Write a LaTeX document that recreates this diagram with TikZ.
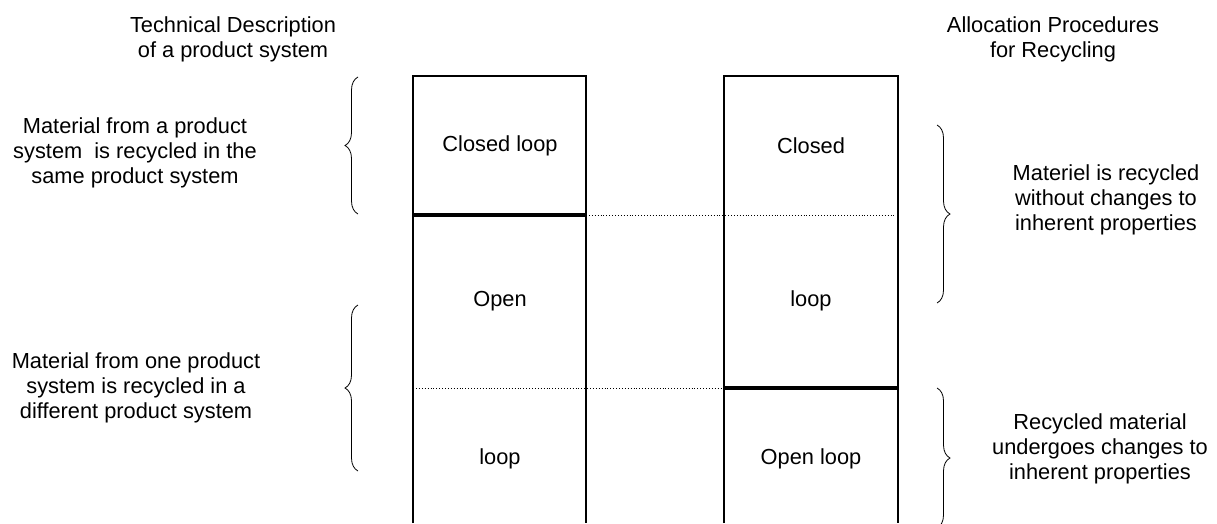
\documentclass[tikz,border=0pt]{standalone}
\usepackage{fontspec}
\setmainfont{Liberation Sans}
\usetikzlibrary{decorations.pathreplacing}
\begin{document}
\begin{tikzpicture}[x=1pt,y=-1pt,
  txt/.style={align=center,font=\fontsize{21.8}{25}\selectfont,inner sep=0pt},
  col/.style={line width=1.3pt},
  thickline/.style={line width=4.8pt},
  dotline/.style={line width=0.9pt,dotted},
  brc/.style={line width=0.8pt,decorate,decoration={brace,amplitude=13pt,aspect=0.5}}]
\useasboundingbox (0,0) rectangle (1217,523);
% columns
\coordinate (LTL) at (413,76);
\coordinate (LTR) at (586,76);
\coordinate (LBL) at (413,523);
\coordinate (LBR) at (586,523);
\coordinate (RTL) at (724,76);
\coordinate (RTR) at (898,76);
\coordinate (RBL) at (724,523);
\coordinate (RBR) at (898,523);
\draw[col] (LBL) -- (LTL) -- (LTR) -- (LBR);
\draw[col] (RBL) -- (RTL) -- (RTR) -- (RBR);
% separators
\coordinate (LS1) at (413,215);
\coordinate (LS2) at (586,215);
\coordinate (RS1) at (895,215);
\coordinate (LD1) at (416,388);
\coordinate (RD1) at (724,388);
\coordinate (RD2) at (898,388);
\draw[thickline] (LS1) -- (LS2);
\draw[dotline] (LS2) -- (RS1);
\draw[dotline] (LD1) -- (RD1);
\draw[thickline] (RD1) -- (RD2);
% column labels
\node[txt] (l1) at (500,146) {Closed loop};
\node[txt] (l2) at (500,301) {Open};
\node[txt] (l3) at (500,459) {loop};
\node[txt] (r1) at (811,146) {Closed};
\node[txt] (r2) at (811,301) {loop};
\node[txt] (r3) at (811,459) {Open loop};
% headers
\node[txt] (h1) at (233,39) {Technical Description\\of a product system};
\node[txt] (h2) at (1053,39) {Allocation Procedures\\for Recycling};
% braces
\coordinate (b1a) at (358,214);
\coordinate (b1b) at (358,77);
\coordinate (b2a) at (358,471);
\coordinate (b2b) at (358,305);
\coordinate (b3a) at (937,125);
\coordinate (b3b) at (937,303);
\coordinate (b4a) at (937,388);
\coordinate (b4b) at (937,528);
\draw[brc] (b1a) -- (b1b);
\draw[brc] (b2a) -- (b2b);
\draw[brc] (b3a) -- (b3b);
\draw[brc] (b4a) -- (b4b);
% side texts
\node[txt] (s1) at (135,153) {Material from a product\\system\ \ is recycled in the\\same product system};
\node[txt] (s2) at (136,388) {Material from one product\\system is recycled in a\\different product system};
\node[txt] (s3) at (1106,200) {Materiel is recycled\\without changes to\\inherent properties};
\node[txt] (s4) at (1100,449) {Recycled material\\undergoes changes to\\inherent properties};
\end{tikzpicture}
\end{document}
